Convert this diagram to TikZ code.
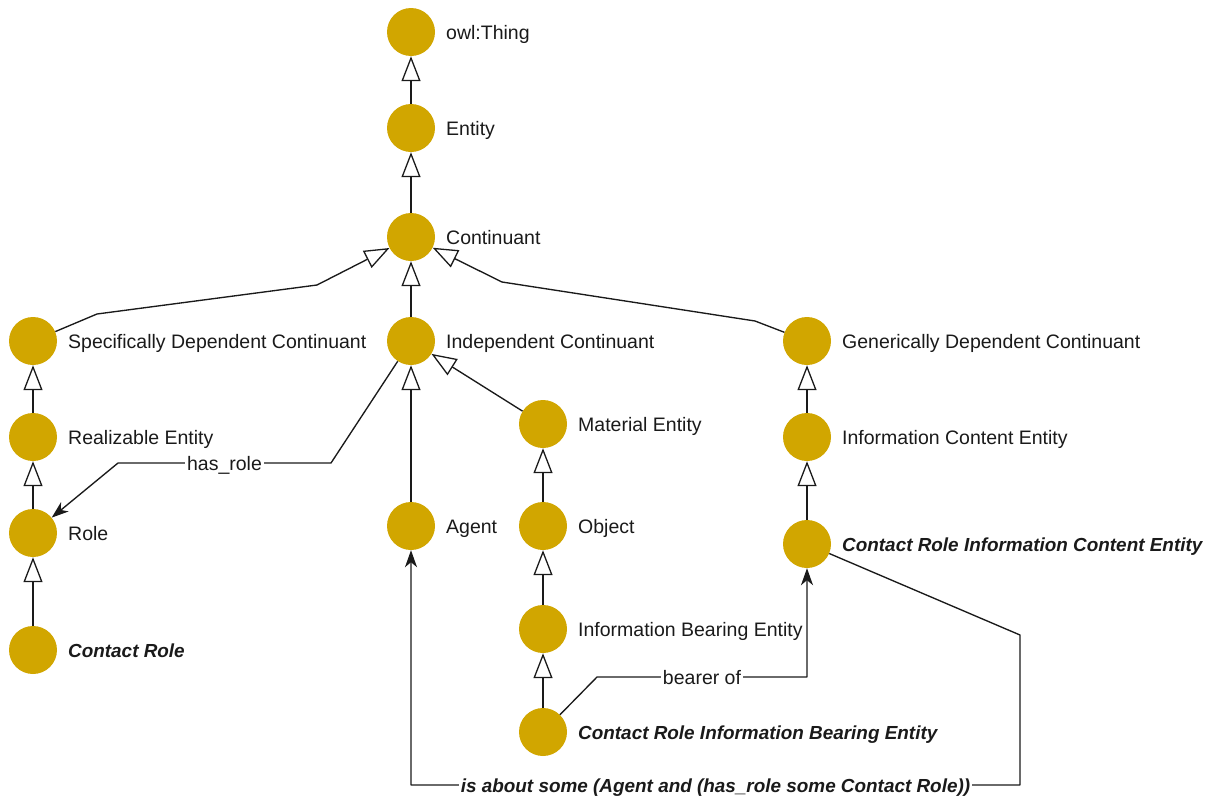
\documentclass[tikz,border=0pt]{standalone}
\usepackage{fontspec}
\setmainfont{Liberation Sans}
\usetikzlibrary{arrows.meta}
\definecolor{gold}{HTML}{D1A600}
\definecolor{ink}{HTML}{1A1A1A}
\newcommand{\lblfont}{\fontsize{19.5}{23}\selectfont}
\newcommand{\emfont}{\fontsize{18.9}{23}\selectfont\bfseries\itshape}
\begin{document}
\begin{tikzpicture}[x=1pt,y=-1pt,
  cls/.style={circle,fill=gold,minimum size=48pt,inner sep=0pt},
  lbl/.style={anchor=base west,inner sep=0pt,text=ink,font=\lblfont},
  blbl/.style={anchor=base west,inner sep=0pt,text=ink,font=\emfont},
  edge/.style={draw=ink,line width=1.35pt,line join=round},
  isa/.style={edge,-{Triangle[open,length=25pt,width=19pt,line width=1.3pt]}},
  rel/.style={edge,-{Stealth[length=17pt,width=12pt,inset=5pt]}},
  rlbl/.style={fill=white,inner sep=2pt,text=ink,text height=14pt,text depth=0pt,font=\lblfont},
  brlbl/.style={rlbl,font=\emfont},
  nameshift/.style={xshift=35pt,yshift=-7pt}
]
\useasboundingbox (0,0) rectangle (1207,798);

% classes
\node[cls] (thing) at (411,32) {};
\node[cls] (entity) at (411,128) {};
\node[cls] (cont) at (411,237) {};
\node[cls] (sdc) at (33,341) {};
\node[cls] (ic) at (411,341) {};
\node[cls] (gdc) at (807,341) {};
\node[cls] (real) at (33,437) {};
\node[cls] (me) at (543,424) {};
\node[cls] (ice) at (807,437) {};
\node[cls] (role) at (33,533) {};
\node[cls] (agent) at (411,526) {};
\node[cls] (obj) at (543,526) {};
\node[cls] (crice) at (807,544) {};
\node[cls] (ibe) at (543,629) {};
\node[cls] (cr) at (33,650) {};
\node[cls] (cribe) at (543,732) {};

% class names
\node[lbl] (thingT) at ([nameshift]thing.center) {owl:Thing};
\node[lbl] (entityT) at ([nameshift]entity.center) {Entity};
\node[lbl] (contT) at ([nameshift]cont.center) {Continuant};
\node[lbl] (sdcT) at ([nameshift]sdc.center) {Specifically Dependent Continuant};
\node[lbl] (icT) at ([nameshift]ic.center) {Independent Continuant};
\node[lbl] (gdcT) at ([nameshift]gdc.center) {Generically Dependent Continuant};
\node[lbl] (realT) at ([nameshift]real.center) {Realizable Entity};
\node[lbl] (meT) at ([nameshift]me.center) {Material Entity};
\node[lbl] (iceT) at ([nameshift]ice.center) {Information Content Entity};
\node[lbl] (roleT) at ([nameshift]role.center) {Role};
\node[lbl] (agentT) at ([nameshift]agent.center) {Agent};
\node[lbl] (objT) at ([nameshift]obj.center) {Object};
\node[blbl] (criceT) at ([nameshift]crice.center) {Contact Role Information Content Entity};
\node[lbl] (ibeT) at ([nameshift]ibe.center) {Information Bearing Entity};
\node[blbl] (crT) at ([nameshift]cr.center) {Contact Role};
\node[blbl] (cribeT) at ([nameshift]cribe.center) {Contact Role Information Bearing Entity};

% subclass links
\draw[isa] (entity) -- (thing);
\draw[isa] (cont) -- (entity);
\draw[isa] (ic) -- (cont);
\draw[isa] (sdc) -- (97,314) -- (317,285) -- (cont);
\draw[isa] (gdc) -- (755,321) -- (502,282) -- (cont);
\draw[isa] (real) -- (sdc);
\draw[isa] (role) -- (real);
\draw[isa] (cr) -- (role);
\draw[isa] (me) -- (ic);
\draw[isa] (agent) -- (ic);
\draw[isa] (obj) -- (me);
\draw[isa] (ibe) -- (obj);
\draw[isa] (cribe) -- (ibe);
\draw[isa] (ice) -- (gdc);
\draw[isa] (crice) -- (ice);

% object properties
\draw[rel] (ic) -- (331,463) -- node[rlbl] (hasroleL) {has\_role} (118,463) -- (role);
\draw[rel] (cribe) -- (597,677) -- node[rlbl] (bearerL) {bearer of} (807,677) -- (crice);
\draw[rel] (crice) -- (1020,635) -- (1020,785)
  -- node[brlbl] (aboutL) {is about some (Agent and (has\_role some Contact Role))} (411,785)
  -- (agent);
\end{tikzpicture}
\end{document}
